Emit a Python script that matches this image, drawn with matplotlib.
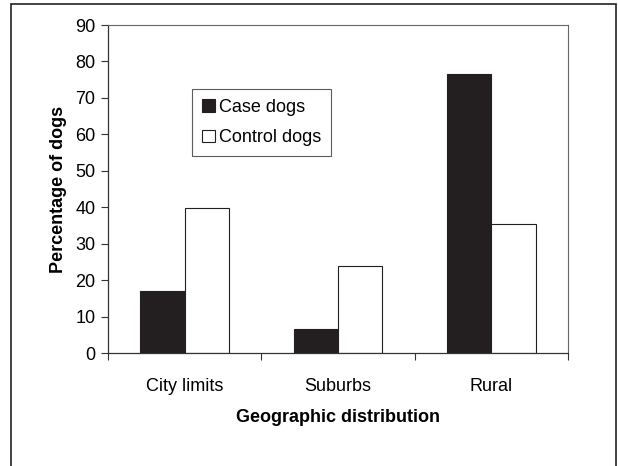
import numpy as np
import matplotlib
matplotlib.use("Agg")
import matplotlib.pyplot as plt
from matplotlib.patches import Rectangle

plt.rcParams['font.family'] = ['Liberation Sans', 'DejaVu Sans']

categories = ['City limits', 'Suburbs', 'Rural']
case_dogs = [17.0, 6.5, 76.5]
control_dogs = [39.7, 24.0, 35.5]
yticks = [0, 10, 20, 30, 40, 50, 60, 70, 80, 90]

fig = plt.figure(figsize=(6.18, 4.66), dpi=100)
ax = fig.add_axes([108/618, 1-353/466, 460/618, 328/466])

# outer frame around the whole figure (open at bottom)
fig.patches.append(Rectangle((11/618, -0.05), 605/618, 1.05-4/466, transform=fig.transFigure,
                             fill=False, edgecolor='#222222', linewidth=1.2))

x = np.arange(len(categories))
w = 0.29
ax.bar(x - w/2, case_dogs, w, color='#231f20', edgecolor='#231f20', linewidth=0.8, label='Case dogs')
ax.bar(x + w/2, control_dogs, w, color='white', edgecolor='#231f20', linewidth=0.8, label='Control dogs')

ax.set_xlim(-0.5, 2.5)
ax.set_ylim(0, 90)
ax.set_yticks(yticks)
ax.tick_params(axis='y', labelsize=13, length=5, width=0.8, color='#333333', pad=4)

ax.set_xticks([-0.5, 0.5, 1.5, 2.5])
ax.set_xticklabels([])
ax.tick_params(axis='x', which='major', length=5, width=0.8, color='#333333')
ax.set_xticks(x, minor=True)
ax.set_xticklabels(categories, minor=True)
ax.tick_params(axis='x', which='minor', length=0, labelsize=13, pad=18)

for s in ['left', 'bottom']:
    ax.spines[s].set_color('#333333')
    ax.spines[s].set_linewidth(0.9)
for s in ['top', 'right']:
    ax.spines[s].set_color('#666666')
    ax.spines[s].set_linewidth(0.8)

ax.set_ylabel('Percentage of dogs', fontsize=13, fontweight='bold', labelpad=6)
ax.set_xlabel('Geographic distribution', fontsize=13, fontweight='bold', labelpad=10)

leg = ax.legend(loc='upper left', bbox_to_anchor=(0.183, 0.805), fancybox=False,
                edgecolor='#333333', fontsize=13, handlelength=0.7, handleheight=0.7,
                handletextpad=0.25, borderpad=0.55, labelspacing=0.75, borderaxespad=0)
leg.get_frame().set_linewidth(0.8)

fig.savefig('out.png', dpi=100)
